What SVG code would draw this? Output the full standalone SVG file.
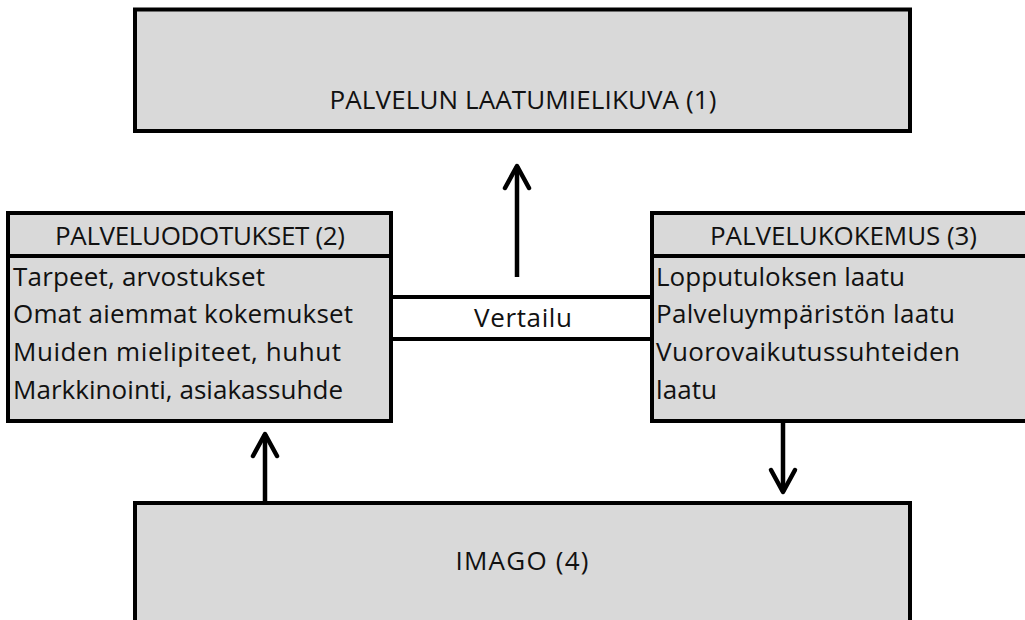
<svg xmlns="http://www.w3.org/2000/svg" width="1025" height="620" viewBox="0 0 1025 620">
  <style>
    .box { fill: #d9d9d9; stroke: #000; stroke-width: 4; }
    .rule { stroke: #000; stroke-width: 4; fill: none; }
    .txt { font-family: "Open Sans", "Liberation Sans", sans-serif; font-size: 26px; fill: #111; }
    .mid { text-anchor: middle; }
    .arrow { stroke: #000; stroke-width: 4.5; fill: none; marker-end: url(#chev); }
  </style>
  <defs>
    <marker id="chev" markerUnits="userSpaceOnUse" viewBox="-26 -16 30 32" refX="0" refY="0" markerWidth="30" markerHeight="32" orient="auto" overflow="visible">
      <path d="M -22 -12 L 0 0 L -22 12" fill="none" stroke="#000" stroke-width="4.5" stroke-linecap="round" stroke-linejoin="round"/>
    </marker>
  </defs>
  <rect width="1025" height="620" fill="#fff"/>

  <!-- Top: overall perceived quality -->
  <g id="laatumielikuva">
    <rect class="box" x="135" y="9.5" width="775" height="121.5"/>
    <text class="txt mid" x="523" y="109" textLength="387" lengthAdjust="spacing">PALVELUN LAATUMIELIKUVA (1)</text>
  </g>

  <!-- Left: expectations -->
  <g id="palveluodotukset">
    <rect class="box" x="8" y="213" width="383" height="208"/>
    <line class="rule" x1="8" y1="256" x2="391" y2="256"/>
    <text class="txt mid" x="200" y="245" textLength="290" lengthAdjust="spacing">PALVELUODOTUKSET (2)</text>
    <text class="txt" x="13" y="286" textLength="252" lengthAdjust="spacing">Tarpeet, arvostukset</text>
    <text class="txt" x="13" y="323" textLength="340" lengthAdjust="spacing">Omat aiemmat kokemukset</text>
    <text class="txt" x="13" y="361" textLength="328" lengthAdjust="spacing">Muiden mielipiteet, huhut</text>
    <text class="txt" x="13" y="399" textLength="330" lengthAdjust="spacing">Markkinointi, asiakassuhde</text>
  </g>

  <!-- Right: experience -->
  <g id="palvelukokemus">
    <rect class="box" x="652" y="213" width="388" height="208"/>
    <line class="rule" x1="652" y1="256" x2="1040" y2="256"/>
    <text class="txt mid" x="843.5" y="245" textLength="267" lengthAdjust="spacing">PALVELUKOKEMUS (3)</text>
    <text class="txt" x="656" y="286" textLength="249" lengthAdjust="spacing">Lopputuloksen laatu</text>
    <text class="txt" x="656" y="323" textLength="299" lengthAdjust="spacing">Palveluympäristön laatu</text>
    <text class="txt" x="656" y="361" textLength="304" lengthAdjust="spacing">Vuorovaikutussuhteiden</text>
    <text class="txt" x="656" y="399" textLength="61" lengthAdjust="spacing">laatu</text>
  </g>

  <!-- Bottom: image -->
  <g id="imago">
    <rect class="box" x="135" y="503" width="775" height="140"/>
    <text class="txt mid" x="522" y="570" textLength="133" lengthAdjust="spacing">IMAGO (4)</text>
  </g>

  <!-- Comparison band between expectations and experience -->
  <g id="vertailu">
    <line class="rule" x1="391" y1="297" x2="652" y2="297"/>
    <line class="rule" x1="391" y1="339" x2="652" y2="339"/>
    <text class="txt mid" x="523" y="327" textLength="98" lengthAdjust="spacing">Vertailu</text>
  </g>

  <g id="connectors">
    <line class="arrow" x1="517" y1="277" x2="517" y2="166"/>
    <line class="arrow" x1="265" y1="503" x2="265" y2="434"/>
    <line class="arrow" x1="783" y1="421" x2="783" y2="492"/>
  </g>
</svg>
